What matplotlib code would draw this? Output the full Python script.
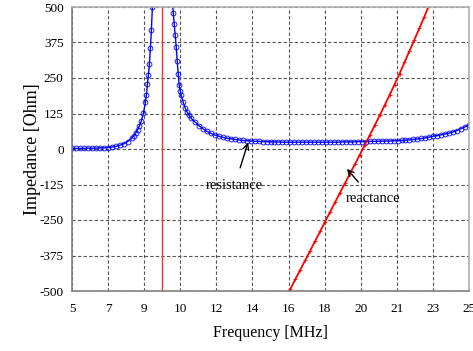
import numpy as np
import matplotlib
matplotlib.use("Agg")
import matplotlib.pyplot as plt

# resistance curve (MHz, Ohm)
res_freq = [5.0, 5.2, 5.4, 5.6, 5.8, 6.0, 6.2, 6.4, 6.6, 6.8, 7.0, 7.2, 7.4,
            7.6, 7.8, 8.0, 8.1, 8.2, 8.3, 8.4, 8.5, 8.6, 8.7, 8.75, 8.8, 8.85,
            8.9, 8.95, 9.0, 9.05, 9.1, 9.5, 9.95, 10.0, 10.05, 10.1, 10.15,
            10.2, 10.25, 10.3, 10.35, 10.4, 10.45, 10.5, 10.6, 10.7, 10.8,
            10.9, 11.0, 11.2, 11.4, 11.6, 11.8, 12.0, 12.2, 12.4, 12.6, 12.8,
            13.0, 13.2, 13.4, 13.6, 13.8, 14.0, 14.2, 14.4, 14.6, 14.8, 15.0,
            15.2, 15.4, 15.6, 15.8, 16.0, 16.2, 16.4, 16.6, 16.8, 17.0, 17.2,
            17.4, 17.6, 17.8, 18.0, 18.2, 18.4, 18.6, 18.8, 19.0, 19.2, 19.4,
            19.6, 19.8, 20.0, 20.2, 20.4, 20.6, 20.8, 21.0, 21.2, 21.4, 21.6,
            21.8, 22.0, 22.2, 22.4, 22.6, 22.8, 23.0, 23.2, 23.4, 23.6, 23.8,
            24.0, 24.2, 24.4, 24.6, 24.8, 25.0]
res_ohm = [2, 2, 2, 2, 3, 3, 3, 4, 4, 5, 7, 9, 13,
           18, 26, 38, 45, 55, 67, 82, 100, 127, 165, 190, 230, 262,
           300, 355, 420, 500, 650, 3000, 700, 600, 530, 480, 440,
           400, 360, 310, 265, 225, 205, 190, 165, 145, 130,
           118, 108, 95, 82, 71, 62, 55, 49, 45, 41, 38,
           36, 34, 32, 30, 29, 28, 27, 27, 26, 26, 25,
           25, 25, 24, 24, 24, 24, 24, 24, 24, 24, 24,
           24, 24, 24, 24, 24, 24, 25, 25, 25, 25, 26,
           26, 26, 27, 27, 27, 28, 28, 28, 29, 29, 30,
           31, 32, 34, 35, 37, 39, 42, 45, 47, 50, 53,
           56, 60, 65, 72, 78, 84]

# reactance curve (MHz, Ohm)
react_freq = [15.75, 16.0, 16.25, 16.5, 16.75, 17.0, 17.25, 17.5, 17.75,
              18.0, 18.25, 18.5, 18.75, 19.0, 19.25, 19.5, 19.75, 20.0,
              20.25, 20.5, 20.75, 21.0, 21.25, 21.5, 21.75, 22.0, 22.25,
              22.5, 22.75, 23.0, 23.25]
react_ohm = [-527, -493, -459, -425, -392, -358, -324, -290, -256,
             -222, -188, -154, -121, -87, -54, -20, 14, 48,
             83, 118, 154, 190, 227, 265, 305, 345, 385,
             425, 466, 508, 550]

resonance = 9.52

x_ticks = np.linspace(5, 25, 12)
x_labels = ["5", "7", "9", "10", "12", "14", "16", "18", "20", "21", "23", "25"]
y_ticks = [-500, -375, -250, -125, 0, 125, 250, 375, 500]

plt.rcParams['font.family'] = ['Liberation Serif', 'DejaVu Serif']
plt.rcParams['axes.unicode_minus'] = False

fig = plt.figure(figsize=(4.73, 3.51), dpi=100)
ax = fig.add_axes([72 / 473, 60 / 351, 397 / 473, 284 / 351])

ax.plot(res_freq, res_ohm, color="blue", linewidth=1, marker="o",
        markersize=3.5, markerfacecolor="none", markeredgewidth=0.6)
ax.plot(react_freq, react_ohm, color="red", linewidth=1.3, marker="+",
        markersize=2.5, markeredgewidth=0.6)
ax.axvline(resonance, color="#ff3030", linewidth=1)

ax.set_xlim(5, 25)
ax.set_ylim(-500, 500)
ax.set_xticks(x_ticks)
ax.set_xticklabels(x_labels)
ax.set_yticks(y_ticks)
ax.tick_params(length=0, labelsize=9.5)
ax.tick_params(axis="x", pad=9)
ax.tick_params(axis="y", pad=6)
ax.grid(True, linestyle=(0, (3, 2)), color="#555555", linewidth=0.8)

for side in ["left", "bottom"]:
    ax.spines[side].set_color("#808080")
    ax.spines[side].set_linewidth(1.2)
for side in ["top", "right"]:
    ax.spines[side].set_color("#b0b0b0")
    ax.spines[side].set_linewidth(1.2)

ax.set_xlabel("Frequency [MHz]", fontsize=11.5, labelpad=7)
ax.set_ylabel("Impedance [Ohm]", fontsize=13, labelpad=-1)

ax.annotate("resistance", xy=(13.87, 23), xytext=(13.2, -127),
            ha="center", va="center", fontsize=10.5,
            arrowprops=dict(arrowstyle="->", color="black", lw=1,
                            shrinkA=6, shrinkB=0))
ax.annotate("reactance", xy=(18.85, -70), xytext=(20.15, -175),
            ha="center", va="center", fontsize=10.5,
            arrowprops=dict(arrowstyle="->", color="black", lw=1,
                            shrinkA=7, shrinkB=0))

fig.savefig("out.png", dpi=100)
